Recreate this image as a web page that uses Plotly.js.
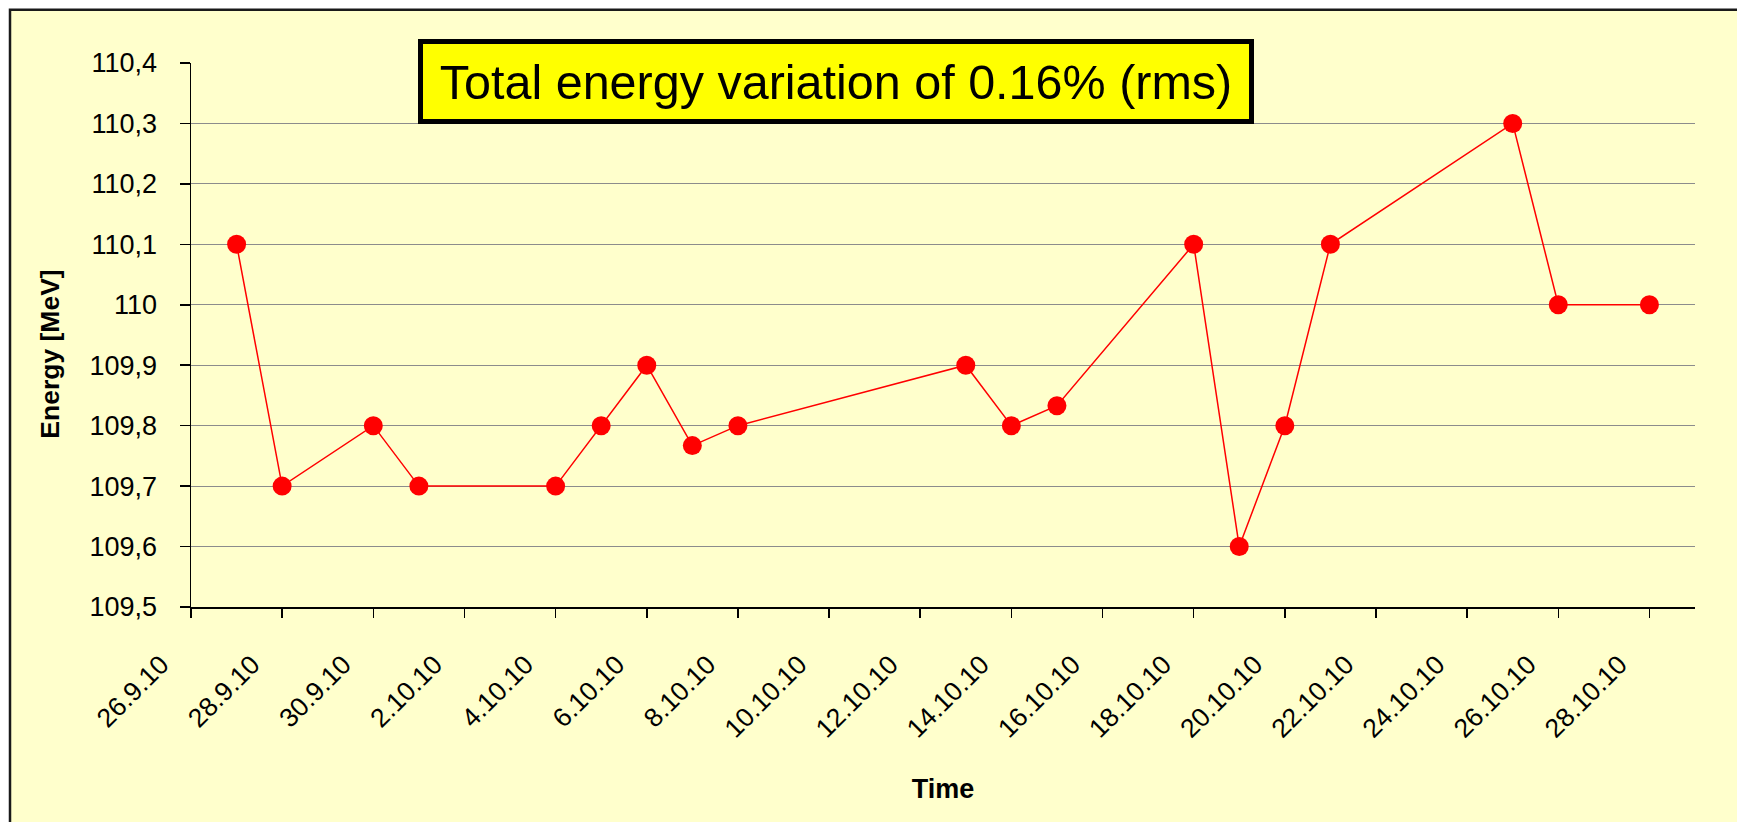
<!DOCTYPE html>
<html>
<head>
<meta charset="utf-8">
<script src="https://cdn.plot.ly/plotly-3.0.1.min.js"></script>
<style>
  html, body { margin: 0; padding: 0; background: #ffffff; }
  #chart { width: 1737px; height: 822px; }
</style>
</head>
<body>
<div id="chart"></div>
<script>
// ---- data ----
const dates = [
  '2010-09-27', '2010-09-28', '2010-09-30', '2010-10-01', '2010-10-04',
  '2010-10-05', '2010-10-06', '2010-10-07', '2010-10-08', '2010-10-13',
  '2010-10-14', '2010-10-15', '2010-10-18', '2010-10-19', '2010-10-20',
  '2010-10-21', '2010-10-25', '2010-10-26', '2010-10-28'
];
const energy = [
  110.1, 109.7, 109.8, 109.7, 109.7,
  109.8, 109.9, 109.767, 109.8, 109.9,
  109.8, 109.833, 110.1, 109.6, 109.8,
  110.1, 110.3, 110.0, 110.0
];
const xTickDates = [
  '2010-09-26', '2010-09-28', '2010-09-30', '2010-10-02', '2010-10-04',
  '2010-10-06', '2010-10-08', '2010-10-10', '2010-10-12', '2010-10-14',
  '2010-10-16', '2010-10-18', '2010-10-20', '2010-10-22', '2010-10-24',
  '2010-10-26', '2010-10-28'
];
const xTickLabels = [
  '26.9.10', '28.9.10', '30.9.10', '2.10.10', '4.10.10',
  '6.10.10', '8.10.10', '10.10.10', '12.10.10', '14.10.10',
  '16.10.10', '18.10.10', '20.10.10', '22.10.10', '24.10.10',
  '26.10.10', '28.10.10'
];
const yTickValues = [109.5, 109.6, 109.7, 109.8, 109.9, 110.0, 110.1, 110.2, 110.3, 110.4];
const yTickLabels = ['109,5', '109,6', '109,7', '109,8', '109,9', '110', '110,1', '110,2', '110,3', '110,4'];
const titleText = 'Total energy variation of 0.16% (rms)';
const xTitle = 'Time';
const yTitle = 'Energy [MeV]';

const FONT = 'Arial, "Liberation Sans", sans-serif';

const trace = {
  x: dates,
  y: energy,
  type: 'scatter',
  mode: 'lines+markers',
  line: { color: '#FF0000', width: 1.5 },
  marker: { color: '#FF0000', size: 19, symbol: 'circle' },
  hoverinfo: 'x+y',
  showlegend: false
};

const layout = {
  width: 1737,
  height: 822,
  margin: { l: 191, r: 42, t: 63, b: 215, pad: 0 },
  paper_bgcolor: '#FFFFFF',
  plot_bgcolor: '#FFFFCC',
  font: { family: FONT, color: '#000000' },
  showlegend: false,
  xaxis: {
    type: 'date',
    range: ['2010-09-26', '2010-10-29'],
    tickmode: 'array',
    tickvals: xTickDates,
    ticktext: xTickLabels,
    tickangle: -45,
    tickfont: { family: FONT, size: 26.5, color: '#000000' },
    ticks: 'outside',
    ticklen: 9,
    tickwidth: 1.5,
    tickcolor: '#000000',
    ticklabelshift: -30,
    ticklabelstandoff: 21,
    showgrid: false,
    zeroline: false,
    showline: true,
    linecolor: '#000000',
    linewidth: 1.5,
    fixedrange: true,
    title: { text: '<b>' + xTitle + '</b>', font: { family: FONT, size: 27, color: '#000000' }, standoff: 36 }
  },
  yaxis: {
    range: [109.5, 110.4],
    tickmode: 'array',
    tickvals: yTickValues,
    ticktext: yTickLabels,
    tickfont: { family: FONT, size: 27, color: '#000000' },
    ticks: 'outside',
    ticklen: 10,
    tickwidth: 1.5,
    tickcolor: '#000000',
    ticklabelstandoff: 17,
    showgrid: true,
    gridcolor: '#8C8C8C',
    gridwidth: 1.2,
    zeroline: false,
    showline: true,
    linecolor: '#000000',
    linewidth: 1.5,
    fixedrange: true
  },
  shapes: [
    {
      type: 'rect', layer: 'below',
      xref: 'paper', yref: 'paper',
      x0: (10 - 191) / 1504, x1: (1760 - 191) / 1504,
      y0: (607.3 - 840) / 544, y1: (607.3 - 10) / 544,
      fillcolor: '#FFFFCC',
      line: { color: '#1a1a1a', width: 2.5 }
    }
  ],
  annotations: [
    {
      text: titleText,
      xref: 'paper', yref: 'paper',
      x: (836 - 191) / 1504, y: (607.3 - 81.5) / 544,
      xanchor: 'center', yanchor: 'middle',
      showarrow: false,
      font: { family: FONT, size: 48.5, color: '#000000' },
      bgcolor: '#FFFF00',
      bordercolor: '#000000',
      borderwidth: 5,
      borderpad: 0,
      width: 826,
      height: 75,
      align: 'center',
      valign: 'middle'
    },
    {
      text: '<b>' + yTitle + '</b>',
      xref: 'paper', yref: 'paper',
      x: (50 - 191) / 1504, y: (607.3 - 355) / 544,
      xanchor: 'center', yanchor: 'middle',
      textangle: -90,
      showarrow: false,
      font: { family: FONT, size: 26.5, color: '#000000' }
    }
  ]
};

Plotly.newPlot('chart', [trace], layout, { displayModeBar: false, staticPlot: true });
</script>
</body>
</html>
